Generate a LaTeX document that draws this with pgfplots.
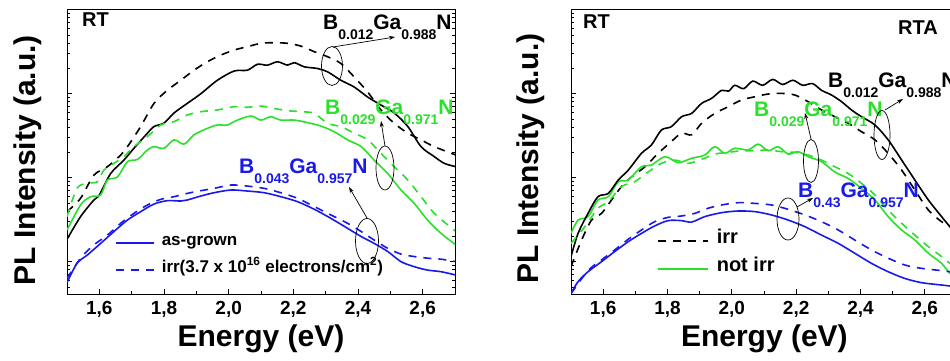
\documentclass[border=0pt]{standalone}
\usepackage{fontspec}
\setmainfont{Liberation Sans}
\usepackage{pgfplots}
\pgfplotsset{compat=1.18}
\usetikzlibrary{arrows.meta}
\definecolor{cgreen}{RGB}{40,225,40}
\definecolor{cblue}{RGB}{25,25,235}
\newcommand{\fs}[1]{\fontsize{#1}{#1}\selectfont}
\newcommand{\sub}[1]{\raisebox{-10pt}{\fs{14}#1}}
\pgfplotsset{
  panel/.style={
    scale only axis, height=285pt, anchor=south west,
    xmin=1.5, xmax=2.7, ymin=4.12, ymax=10200,
    xtick={1.6,1.8,2.0,2.2,2.4,2.6},
    xticklabels={{1,6},{1,8},{2,0},{2,2},{2,4},{2,6}},
    minor xtick={1.5,1.7,1.9,2.1,2.3,2.5,2.7},
    xtick pos=left,
    ytick={10,100,1000,10000},
    minor ytick={5,6,7,8,9,20,30,40,50,60,70,80,90,200,300,400,500,600,700,800,900,2000,3000,4000,5000,6000,7000,8000,9000},
    yticklabels={},
    major tick length=5pt, minor tick length=3pt,
    every tick/.style={black, line width=0.8pt},
    axis line style={line width=0.8pt},
    xticklabel style={font=\fs{19}\bfseries, yshift=-4pt},
    xlabel={Energy (eV)}, ylabel={PL Intensity (a.u.)},
    every axis plot/.append style={line width=1.6pt, smooth},
    legend cell align=left,
  },
}
\tikzset{dsh/.style={dash pattern=on 8pt off 7pt}}
\begin{document}
\begin{tikzpicture}
% ---------------- left panel ----------------
\begin{axis}[ymode=log, panel, at={(67pt,67pt)}, width=388pt,
  xlabel style={font=\fs{30}\bfseries, at={(axis description cs:0.5,-0.1825)}, anchor=base},
  ylabel style={font=\fs{30}\bfseries, at={(axis description cs:-0.080,0.470)}, anchor=base},
  legend image code/.code={\draw[#1] (0pt,0pt) -- (38pt,0pt);},
  legend style={draw=none, fill=none, font=\fs{17}\bfseries, inner sep=0pt,
    at={(axis description cs:0.1237,0.198)}, anchor=north west,
    column sep=7pt, row sep=17pt,
    nodes={inner sep=0pt, text height=0.75em, text depth=0.25em}},
]
% blue solid (as-grown, B0.043)
\addplot[cblue] coordinates {
(1.50,5.62)(1.531,9.55)(1.563,12.0)(1.604,16.5)(1.645,22.8)(1.687,31.3)(1.728,39.4)(1.769,48.5)
(1.81,53.2)(1.852,52.7)(1.872,54.2)(1.914,60.5)(1.955,66.2)(2.007,71.3)(2.058,69.3)(2.11,66.2)
(2.161,59.4)(2.213,51.8)(2.265,42.0)(2.316,32.8)(2.368,24.9)(2.41,19.9)(2.45,16.5)(2.492,13.2)
(2.533,10.0)(2.574,8.71)(2.615,7.94)(2.657,7.59)(2.703,6.92)};
\addlegendentry{as-grown}
% blue dashed (irr)
\addplot[cblue, dsh] coordinates {
(1.50,6.31)(1.542,11.0)(1.583,15.8)(1.625,20.7)(1.666,28.6)(1.707,37.6)(1.749,47.3)(1.79,55.2)
(1.831,59.4)(1.872,65.0)(1.914,70.0)(1.955,74.6)(2.007,81.8)(2.058,79.4)(2.11,74.6)(2.161,66.2)
(2.213,56.8)(2.265,45.2)(2.316,36.0)(2.368,28.6)(2.41,22.8)(2.45,18.1)(2.492,14.4)(2.533,12.3)
(2.574,11.5)(2.615,11.0)(2.657,10.7)(2.703,10.0)};
\addlegendentry{irr(3.7 x 10\textsuperscript{16} electrons/cm\textsuperscript{2})}
% black solid
\addplot[black, forget plot] coordinates {
(1.50,18.45)(1.542,34.4)(1.583,54.2)(1.60,62.2)(1.635,112)(1.676,162)(1.707,224)(1.749,339)
(1.769,407)(1.80,447)(1.831,589)(1.872,767)(1.914,1000)(1.965,1445)(2.017,1862)(2.058,1905)
(2.089,2239)(2.12,2188)(2.151,2399)(2.182,2188)(2.203,2344)(2.234,2089)(2.275,1995)(2.306,1820)
(2.347,1445)(2.388,1202)(2.43,912)(2.471,733)(2.512,589)(2.554,407)(2.595,234)(2.636,178)
(2.667,148)(2.703,135)};
% black dashed
\addplot[black, dsh, forget plot] coordinates {
(1.50,39.4)(1.542,56.8)(1.583,107)(1.625,135)(1.666,186)(1.687,234)(1.728,407)(1.769,767)
(1.81,1096)(1.852,1445)(1.893,1905)(1.934,2399)(1.976,2884)(2.017,3311)(2.058,3631)(2.10,3981)
(2.14,4046)(2.182,3981)(2.223,3690)(2.265,3162)(2.306,2754)(2.347,2291)(2.388,1585)(2.43,1047)
(2.471,640)(2.512,444)(2.554,339)(2.595,282)(2.636,234)(2.703,186)};
% green solid
\addplot[cgreen, forget plot] coordinates {
(1.50,23.8)(1.542,47.3)(1.573,59.4)(1.604,62.2)(1.625,93.8)(1.656,102)(1.687,155)(1.718,165)
(1.749,214)(1.769,234)(1.80,224)(1.831,282)(1.862,251)(1.893,324)(1.934,386)(1.965,424)
(1.996,424)(2.027,485)(2.069,542)(2.10,485)(2.13,532)(2.161,485)(2.203,485)(2.244,452)
(2.285,412)(2.326,353)(2.368,282)(2.41,234)(2.45,162)(2.492,112)(2.533,71.3)(2.574,49.4)
(2.615,31.3)(2.657,21.7)(2.703,15.8)};
% green dashed
\addplot[cgreen, dsh, forget plot] coordinates {
(1.50,34.4)(1.531,74.6)(1.563,85.7)(1.594,89.5)(1.614,123)(1.645,148)(1.676,178)(1.707,234)
(1.749,309)(1.79,424)(1.831,465)(1.872,557)(1.914,611)(1.965,640)(2.017,700)(2.058,689)
(2.10,713)(2.14,668)(2.182,628)(2.223,611)(2.265,583)(2.306,444)(2.347,405)(2.388,339)
(2.43,282)(2.471,195)(2.512,135)(2.554,93.8)(2.595,59.4)(2.636,37.6)(2.703,22.8)};
\end{axis}
% ---------------- right panel ----------------
\begin{axis}[ymode=log, panel, at={(571pt,67pt)}, width=386pt,
  xlabel style={font=\fs{30}\bfseries, at={(axis description cs:0.501,-0.1825)}, anchor=base},
  ylabel style={font=\fs{30}\bfseries, at={(axis description cs:-0.084,0.475)}, anchor=base},
  legend image code/.code={\draw[#1] (0pt,0pt) -- (50pt,0pt);},
  legend style={draw=none, fill=none, font=\fs{20}\bfseries, inner sep=0pt,
    at={(axis description cs:0.2228,0.205)}, anchor=north west,
    column sep=8pt, row sep=18pt,
    nodes={inner sep=0pt, text height=0.75em, text depth=0.25em}},
]
% black dashed (irr)
\addplot[black, dsh] coordinates {
(1.50,8.71)(1.533,18.1)(1.564,31.3)(1.595,37.6)(1.626,54.2)(1.657,78.2)(1.688,102)(1.73,135)
(1.771,195)(1.812,269)(1.844,339)(1.875,324)(1.906,444)(1.947,583)(1.989,700)(2.03,841)
(2.072,920)(2.113,991)(2.154,1009)(2.196,964)(2.237,804)(2.279,640)(2.32,532)(2.362,444)
(2.403,353)(2.445,282)(2.486,195)(2.528,123)(2.569,71.3)(2.611,41.2)(2.652,29.9)(2.678,26.1)(2.70,23.8)};
\addlegendentry{irr}
% green solid (not irr)
\addplot[cgreen] coordinates {
(1.50,21.7)(1.522,31.3)(1.553,34.4)(1.584,54.2)(1.616,59.4)(1.647,89.5)(1.678,93.8)(1.719,135)
(1.75,141)(1.792,178)(1.833,151)(1.875,170)(1.916,186)(1.947,234)(1.978,195)(2.009,224)
(2.051,214)(2.082,251)(2.113,209)(2.144,234)(2.175,191)(2.206,204)(2.237,178)(2.279,155)
(2.32,117)(2.362,97.7)(2.403,74.6)(2.445,54.2)(2.486,34.4)(2.528,23.8)(2.569,18.1)(2.611,12.6)
(2.652,9.55)(2.678,7.24)(2.70,6.61)};
\addlegendentry{not irr}
% black solid
\addplot[black, forget plot] coordinates {
(1.50,11.5)(1.522,21.7)(1.553,37.6)(1.584,59.4)(1.616,65.0)(1.647,93.8)(1.678,123)(1.719,195)
(1.75,245)(1.781,369)(1.812,405)(1.844,532)(1.875,583)(1.906,767)(1.937,879)(1.968,1096)
(1.99,1072)(2.009,1259)(2.037,1148)(2.065,1413)(2.096,1259)(2.127,1479)(2.158,1288)(2.19,1445)
(2.22,1259)(2.251,1318)(2.279,1096)(2.31,964)(2.341,804)(2.372,640)(2.403,532)(2.445,424)
(2.486,282)(2.528,162)(2.569,93.8)(2.611,54.2)(2.652,34.4)(2.678,26.1)(2.70,21.7)};
% green dashed
\addplot[cgreen, dsh, forget plot] coordinates {
(1.50,16.5)(1.543,26.1)(1.584,43.2)(1.616,51.8)(1.657,78.2)(1.698,89.5)(1.74,117)(1.781,148)
(1.823,162)(1.864,148)(1.906,165)(1.947,191)(1.989,200)(2.03,209)(2.072,209)(2.113,214)
(2.154,204)(2.196,200)(2.237,186)(2.279,162)(2.32,135)(2.362,112)(2.403,85.7)(2.445,62.2)
(2.486,41.2)(2.528,28.6)(2.569,20.7)(2.611,15.1)(2.652,11.5)(2.678,9.55)(2.70,8.71)};
% blue solid
\addplot[cblue, forget plot] coordinates {
(1.50,4.17)(1.522,5.78)(1.553,7.59)(1.595,10.0)(1.636,13.2)(1.678,17.3)(1.719,21.7)(1.76,26.6)
(1.802,30.8)(1.844,30.8)(1.875,29.6)(1.916,34.4)(1.968,38.3)(2.02,40.1)(2.072,39.4)(2.123,36.0)
(2.175,31.3)(2.227,26.1)(2.279,20.7)(2.331,16.5)(2.382,12.6)(2.434,9.55)(2.486,7.59)(2.538,6.31)
(2.59,5.62)(2.652,5.27)(2.678,5.13)(2.70,5.01)};
% blue dashed
\addplot[cblue, dsh, forget plot] coordinates {
(1.50,4.17)(1.553,7.82)(1.595,10.5)(1.636,13.8)(1.678,18.5)(1.719,23.8)(1.76,29.9)(1.802,33.7)
(1.844,35.0)(1.885,37.6)(1.926,43.2)(1.968,47.3)(2.02,50.4)(2.072,49.4)(2.123,47.3)(2.175,42.0)
(2.227,36.0)(2.279,29.9)(2.331,23.8)(2.382,18.1)(2.434,13.8)(2.486,11.0)(2.538,9.12)(2.59,8.32)
(2.652,7.82)(2.678,7.59)(2.70,7.41)};
\end{axis}
% ---------------- annotations ----------------
\begin{scope}[every node/.style={anchor=base west, inner sep=0pt}]
\node at (82pt,334pt) {\fs{20}\bfseries RT};
\node at (323pt,331pt) {\fs{21}\bfseries B\sub{0.012}Ga\sub{0.988}N};
\node[text=cgreen] at (325pt,246pt) {\fs{21}\bfseries B\sub{0.029}Ga\sub{0.971}N};
\node[text=cblue] at (239pt,187pt) {\fs{21}\bfseries B\sub{0.043}Ga\sub{0.957}N};
\node at (583pt,332pt) {\fs{20}\bfseries RT};
\node at (898pt,326pt) {\fs{20}\bfseries RTA};
\node at (828pt,273pt) {\fs{21}\bfseries B\sub{0.012}Ga\sub{0.988}N};
\node[text=cgreen] at (754pt,244pt) {\fs{21}\bfseries B\sub{0.029}Ga\sub{0.971}N};
\node[text=cblue] at (798pt,163pt) {\fs{21}\bfseries B\sub{0.43}Ga\sub{0.957}N};
\end{scope}
\begin{scope}[line width=0.7pt, >={Stealth[length=6pt,width=4pt]}]
\draw (332pt,295pt) ellipse [x radius=10.5pt, y radius=19.5pt];
\draw[->] (333pt,314pt) -- (395pt,324pt);
\draw (385pt,193pt) ellipse [x radius=9pt, y radius=22pt];
\draw[->] (385pt,215pt) -- (381pt,240pt);
\draw (367pt,120pt) ellipse [x radius=11.5pt, y radius=22.5pt];
\draw[->] (367pt,143pt) -- (349pt,174pt);
\draw (882pt,226pt) ellipse [x radius=8pt, y radius=24.5pt];
\draw[->] (885pt,251pt) -- (903pt,262pt);
\draw (811pt,200pt) ellipse [x radius=7.5pt, y radius=21.5pt];
\draw[->] (811pt,222pt) -- (805pt,248pt);
\draw (788pt,142pt) ellipse [x radius=11pt, y radius=21pt];
\draw[->] (797pt,154pt) -- (813pt,163pt);
\end{scope}
\pgfresetboundingbox
\path[use as bounding box] (0pt,0pt) rectangle (950pt,361pt);
\end{tikzpicture}
\end{document}
